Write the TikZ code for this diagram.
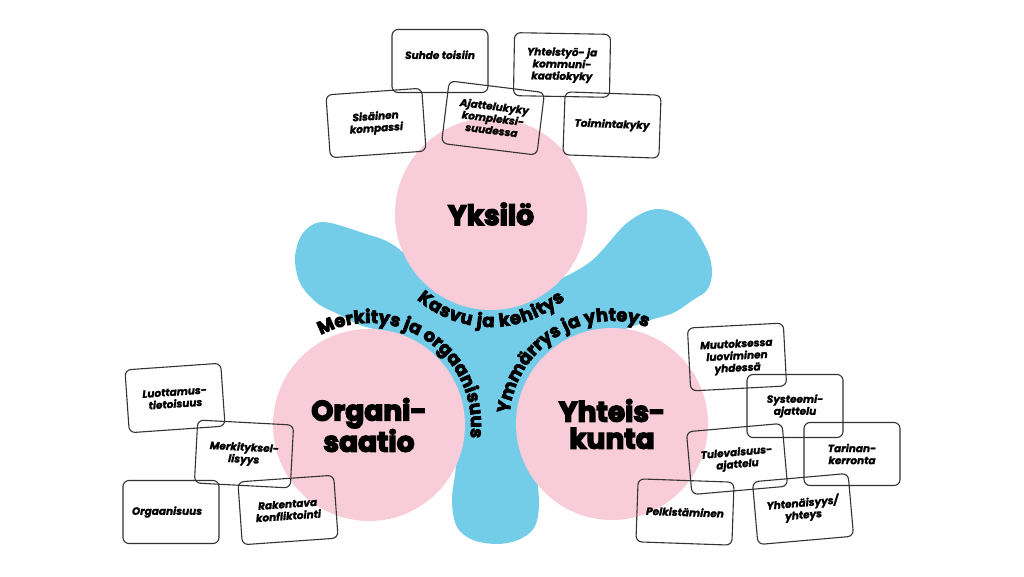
\documentclass[tikz,border=0pt]{standalone}
\usepackage{fontspec}
\setmainfont{Poppins}
\newfontfamily\heavy{Poppins Bold}[FakeBold=5]
\newfontfamily\curveface{Poppins Bold}[FakeBold=4]
\newfontfamily\cardface{Poppins Bold Italic}[FakeBold=1.5]
\usetikzlibrary{decorations.text}
\definecolor{pinkc}{HTML}{F8CCD8}
\definecolor{bluec}{HTML}{74CDE8}
\definecolor{cardline}{HTML}{333333}
\newcommand\cardfont{\cardface\fontsize{10.5}{12}\selectfont}
\newcommand\titlefont{\heavy\fontsize{28}{27}\selectfont}
\newcommand\curvefont{\curveface\fontsize{18}{18}\selectfont}
\tikzset{
  card/.style={draw=cardline, line width=1.1pt, rounded corners=6pt, minimum width=96pt, minimum height=63pt, inner sep=0pt, align=center, font=\cardfont},
  disc/.style={circle, fill=pinkc, minimum size=192pt, inner sep=0pt, align=center, font=\titlefont},
  arctext/.style={decorate, decoration={text along path, text align=center, text={|\curvefont|#1}}},
  fittext/.style={decorate, decoration={text along path, text align=fit to path, text={|\curvefont|#1}}}
}
\begin{document}
\begin{tikzpicture}[x=1pt,y=1pt]
\useasboundingbox (0,0) rectangle (1024,576);
\fill[white] (0,0) rectangle (1024,576);
% blue blob
\fill[bluec] plot[smooth cycle, tension=0.55] coordinates {
 (323,354) (363,343) (395,330) (440,291) (491,278) (545,291) (590,314) (627,353)
 (657,367) (687,356) (707,326) (712,303) (707,286) (693,276) (673,263) (645,254)
 (605,236) (555,186) (538,116) (539,71) (534,48) (518,36) (497,32) (473,36)
 (457,49) (452,76) (456,126) (440,191) (395,238) (360,251) (338,262) (317,273)
 (300,293) (295,319) (303,343)};
% circles
\node[disc] (yksilo) at (491,362) {Yksilö};
\node[disc] (organisaatio) at (369,151) {Organi-\\saatio};
\node[disc] (yhteiskunta) at (612,152) {Yhteis-\\kunta};
% curved texts
\path[fittext={Kasvu ja kehitys}, shift={(491,362)}] (229:113) arc[start angle=229, end angle=311, radius=113];
\path[arctext={Merkitys ja orgaanisuus}, shift={(369,151)}] (155:102) arc[start angle=155, end angle=-44, radius=102];
\path[arctext={Ymmärrys ja yhteys}, shift={(612,152)}] (212:103) arc[start angle=212, end angle=32, radius=103];
% cards: Yksilö
\node[card] (c1) at (440,515) {\raisebox{2pt}[0pt][0pt]{Suhde toisiin}};
\node[card, rotate=-1] (c2) at (562,511) {Yhteistyö- ja\\kommuni-\\kaatiokyky};
\node[card, rotate=4] (c3) at (376,453) {Sisäinen\\kompassi};
\node[card, rotate=-7] (c4) at (493,458) {Ajattelukyky\\kompleksi-\\suudessa};
\node[card, rotate=-2] (c5) at (612,451) {Toimintakyky};
% cards: Organisaatio
\node[card, rotate=4] (c6) at (175,178) {Luottamus-\\tietoisuus};
\node[card, rotate=-3] (c7) at (244,122) {Merkityksel-\\lisyys};
\node[card] (c8) at (171,64) {Orgaanisuus\hspace{8pt}};
\node[card, rotate=4] (c9) at (288,66) {Rakentava\\konfliktointi};
% cards: Yhteiskunta
\node[card, rotate=3] (c10) at (737,219) {Muutoksessa\\luoviminen\\yhdessä};
\node[card] (c11) at (795,170) {Systeemi-\\ajattelu};
\node[card] (c12) at (852,122) {Tarinan-\\kerronta};
\node[card, rotate=5] (c13) at (737,117) {Tulevaisuus-\\ajattelu};
\node[card, rotate=-2] (c14) at (685,64) {Pelkistäminen};
\node[card, rotate=5] (c15) at (803,67) {Yhtenäisyys/\\yhteys};
\end{tikzpicture}
\end{document}
